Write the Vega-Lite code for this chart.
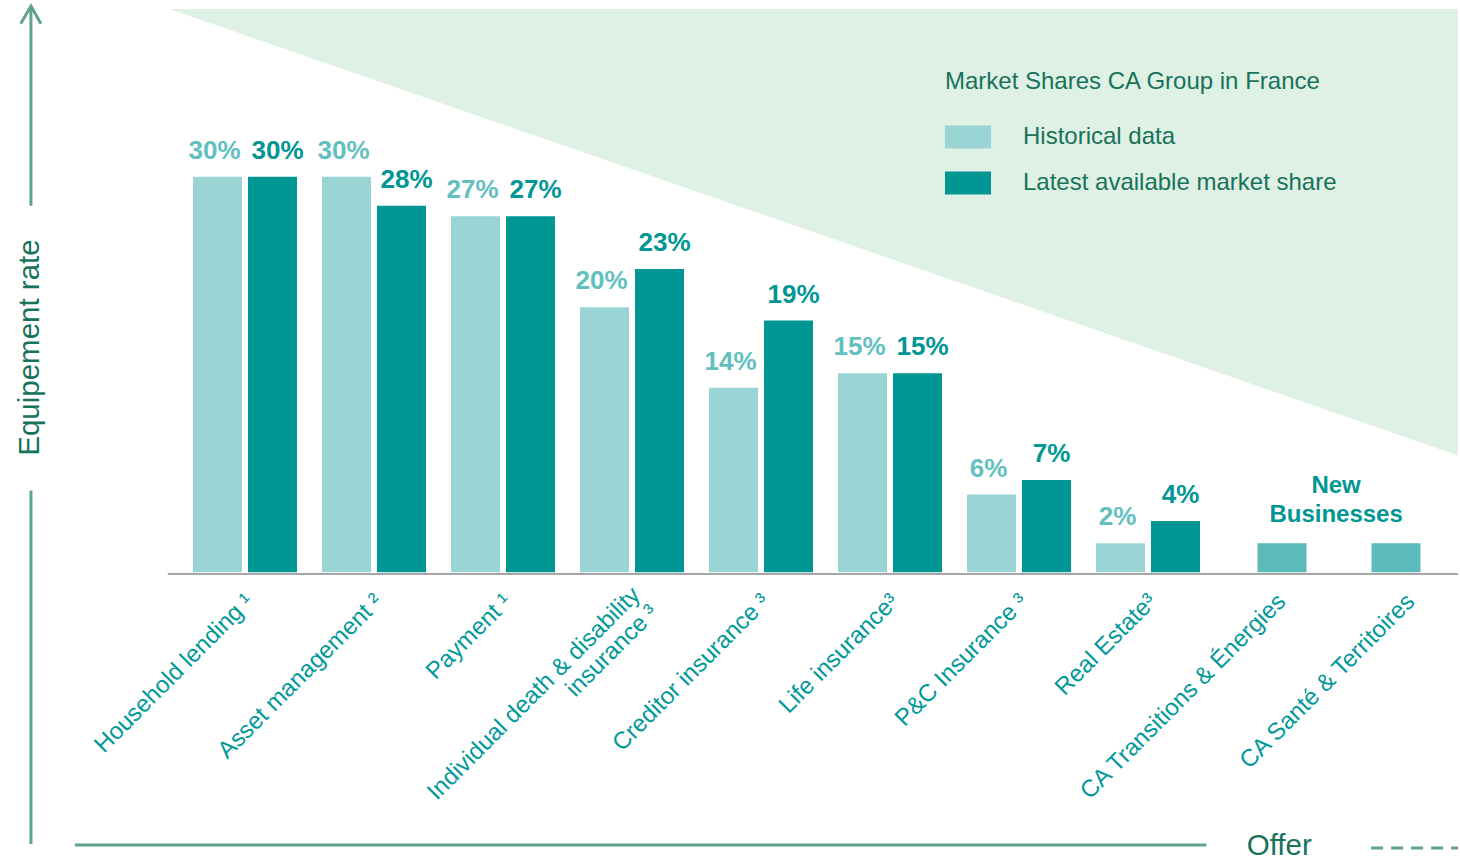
{
  "$schema": "https://vega.github.io/schema/vega-lite/v6.json",
  "width": 1460,
  "height": 861,
  "autosize": {"type": "fit", "contains": "padding"},
  "padding": 0,
  "background": "white",
  "config": {"view": {"stroke": null}, "font": "Liberation Sans"},
  "datasets": {
    "bars": [
      {"category": "Household lending", "series": "Historical data", "value": 0.300},
      {"category": "Household lending", "series": "Latest available market share", "value": 0.300},
      {"category": "Asset management", "series": "Historical data", "value": 0.300},
      {"category": "Asset management", "series": "Latest available market share", "value": 0.278},
      {"category": "Payment", "series": "Historical data", "value": 0.270},
      {"category": "Payment", "series": "Latest available market share", "value": 0.270},
      {"category": "Individual death & disability insurance", "series": "Historical data", "value": 0.201},
      {"category": "Individual death & disability insurance", "series": "Latest available market share", "value": 0.230},
      {"category": "Creditor insurance", "series": "Historical data", "value": 0.140},
      {"category": "Creditor insurance", "series": "Latest available market share", "value": 0.191},
      {"category": "Life insurance", "series": "Historical data", "value": 0.151},
      {"category": "Life insurance", "series": "Latest available market share", "value": 0.151},
      {"category": "P&C Insurance", "series": "Historical data", "value": 0.059},
      {"category": "P&C Insurance", "series": "Latest available market share", "value": 0.070},
      {"category": "Real Estate", "series": "Historical data", "value": 0.022},
      {"category": "Real Estate", "series": "Latest available market share", "value": 0.039}
    ],
    "newbiz": [
      {"category": "CA Transitions & Énergies", "value": 0.022},
      {"category": "CA Santé & Territoires", "value": 0.022}
    ],
    "cats": [
      {"category": "Household lending", "label": "Household lending ¹"},
      {"category": "Asset management", "label": "Asset management ²"},
      {"category": "Payment", "label": "Payment ¹"},
      {"category": "Individual death & disability insurance", "label": ["Individual death & disability", "insurance ³"]},
      {"category": "Creditor insurance", "label": "Creditor insurance ³"},
      {"category": "Life insurance", "label": "Life insurance³"},
      {"category": "P&C Insurance", "label": "P&C Insurance ³"},
      {"category": "Real Estate", "label": "Real Estate³"},
      {"category": "CA Transitions & Énergies", "label": "CA Transitions & Énergies"},
      {"category": "CA Santé & Territoires", "label": "CA Santé & Territoires"}
    ],
    "triangle": [
      {"px": 11.644, "lo": 0.42727, "hi": 0.42727},
      {"px": 100, "lo": 0.08864, "hi": 0.42727}
    ],
    "solidlines": [
      {"x1": 2.123, "y1": -0.2061, "x2": 2.123, "y2": 0.0621},
      {"x1": 2.123, "y1": 0.2780, "x2": 2.123, "y2": 0.4295},
      {"x1": 5.137, "y1": -0.2068, "x2": 82.74, "y2": -0.2068}
    ],
    "dashline": [
      {"x1": 94.04, "y1": -0.2091, "x2": 100, "y2": -0.2091}
    ],
    "baseline": [
      {"x1": 11.507, "x2": 100, "y": -0.0012}
    ],
    "arrowhead": [
      {"px": 1.418, "py": 0.4161, "o": 1},
      {"px": 2.123, "py": 0.4295, "o": 2},
      {"px": 2.808, "py": 0.4161, "o": 3}
    ],
    "axistitles": [
      {"px": 2.05, "py": 0.1705, "text": "Equipement rate", "angle": 270},
      {"px": 87.74, "py": -0.2076, "text": "Offer", "angle": 0}
    ],
    "nbtitle": [
      {"px": 91.64, "py": 0.0655, "text": ["New", "Businesses"]}
    ]
  },
  "layer": [
    {
      "layer": [
        {
          "data": {"name": "triangle"},
          "mark": {"type": "area", "color": "#DFF0E5", "opacity": 1},
          "encoding": {
            "x": {"field": "px", "type": "quantitative", "scale": {"domain": [0, 100], "nice": false, "zero": false}, "axis": null},
            "y": {"field": "lo", "type": "quantitative", "scale": {"domain": [-0.21894, 0.43333], "nice": false, "zero": false}, "axis": null},
            "y2": {"field": "hi"}
          }
        },
        {
          "data": {"name": "baseline"},
          "mark": {"type": "rule", "color": "#A6A6A6", "strokeWidth": 2},
          "encoding": {
            "x": {"field": "x1", "type": "quantitative", "scale": {"domain": [0, 100], "nice": false, "zero": false}, "axis": null},
            "x2": {"field": "x2"},
            "y": {"field": "y", "type": "quantitative", "scale": {"domain": [-0.21894, 0.43333], "nice": false, "zero": false}, "axis": null}
          }
        },
        {
          "data": {"name": "solidlines"},
          "mark": {"type": "rule", "color": "#5FA38D", "strokeWidth": 3},
          "encoding": {
            "x": {"field": "x1", "type": "quantitative", "scale": {"domain": [0, 100], "nice": false, "zero": false}, "axis": null},
            "x2": {"field": "x2"},
            "y": {"field": "y1", "type": "quantitative", "scale": {"domain": [-0.21894, 0.43333], "nice": false, "zero": false}, "axis": null},
            "y2": {"field": "y2"}
          }
        },
        {
          "data": {"name": "dashline"},
          "mark": {"type": "rule", "color": "#5FA38D", "strokeWidth": 3, "strokeDash": [12, 8]},
          "encoding": {
            "x": {"field": "x1", "type": "quantitative", "scale": {"domain": [0, 100], "nice": false, "zero": false}, "axis": null},
            "x2": {"field": "x2"},
            "y": {"field": "y1", "type": "quantitative", "scale": {"domain": [-0.21894, 0.43333], "nice": false, "zero": false}, "axis": null},
            "y2": {"field": "y2"}
          }
        },
        {
          "data": {"name": "arrowhead"},
          "mark": {"type": "line", "color": "#5FA38D", "strokeWidth": 3},
          "encoding": {
            "x": {"field": "px", "type": "quantitative", "scale": {"domain": [0, 100], "nice": false, "zero": false}, "axis": null},
            "y": {"field": "py", "type": "quantitative", "scale": {"domain": [-0.21894, 0.43333], "nice": false, "zero": false}, "axis": null},
            "order": {"field": "o"}
          }
        },
        {
          "data": {"name": "axistitles"},
          "mark": {"type": "text", "color": "#17735A", "fontSize": 29.5, "align": "center", "baseline": "middle"},
          "encoding": {
            "x": {"field": "px", "type": "quantitative", "scale": {"domain": [0, 100], "nice": false, "zero": false}, "axis": null},
            "y": {"field": "py", "type": "quantitative", "scale": {"domain": [-0.21894, 0.43333], "nice": false, "zero": false}, "axis": null},
            "text": {"field": "text"},
            "angle": {"field": "angle", "type": "quantitative", "scale": null}
          }
        },
        {
          "data": {"name": "nbtitle"},
          "mark": {"type": "text", "color": "#009694", "fontSize": 24, "fontWeight": "bold", "align": "center", "baseline": "middle", "lineHeight": 29},
          "encoding": {
            "x": {"field": "px", "type": "quantitative", "scale": {"domain": [0, 100], "nice": false, "zero": false}, "axis": null},
            "y": {"field": "py", "type": "quantitative", "scale": {"domain": [-0.21894, 0.43333], "nice": false, "zero": false}, "axis": null},
            "text": {"field": "text"}
          }
        }
      ]
    },
    {
      "layer": [
        {
          "data": {"name": "bars"},
          "mark": {"type": "bar"},
          "encoding": {
            "x": {"field": "category", "type": "nominal", "sort": null, "scale": {"domain": ["Household lending", "Asset management", "Payment", "Individual death & disability insurance", "Creditor insurance", "Life insurance", "P&C Insurance", "Real Estate", "CA Transitions & Énergies", "CA Santé & Territoires"], "range": [193, 1458], "paddingInner": 0.1938, "paddingOuter": 0}, "axis": null},
            "xOffset": {"field": "series", "type": "nominal", "scale": {"domain": ["Historical data", "Latest available market share"], "paddingInner": 0.109, "paddingOuter": 0}},
            "y": {"field": "value", "type": "quantitative", "scale": {"domain": [-0.21894, 0.43333], "nice": false, "zero": false}, "axis": null},
            "y2": {"datum": 0},
            "color": {
              "field": "series", "type": "nominal",
              "scale": {"domain": ["Historical data", "Latest available market share"], "range": ["#9BD4D5", "#009694"]},
              "legend": {
                "orient": "none", "legendX": 945, "legendY": 69,
                "title": "Market Shares CA Group in France",
                "titleFont": "Liberation Sans", "titleFontSize": 24, "titleFontWeight": "normal", "titleColor": "#17735A", "titleLimit": 0, "titlePadding": 20,
                "labelFont": "Liberation Sans", "labelFontSize": 24, "labelColor": "#17735A", "labelLimit": 0, "labelOffset": 32,
                "symbolType": "M-1,-0.5H1V0.5H-1Z", "symbolSize": 2116, "symbolStrokeWidth": 0, "symbolOpacity": 1,
                "rowPadding": 11, "padding": 0
              }
            }
          }
        },
        {
          "data": {"name": "bars"},
          "mark": {"type": "text", "fontSize": 26, "fontWeight": "bold", "align": "center", "baseline": "alphabetic", "dy": -18, "dx": {"expr": "datum.series === 'Historical data' ? -3 : 5"}},
          "encoding": {
            "x": {"field": "category", "type": "nominal", "sort": null, "axis": null},
            "xOffset": {"field": "series", "type": "nominal"},
            "y": {"field": "value", "type": "quantitative", "scale": {"domain": [-0.21894, 0.43333], "nice": false, "zero": false}, "axis": null},
            "text": {"field": "value", "type": "quantitative", "format": ".0%"},
            "color": {"condition": {"test": "datum.series === 'Historical data'", "value": "#62C0C0"}, "value": "#009694"}
          }
        },
        {
          "data": {"name": "newbiz"},
          "mark": {"type": "bar", "width": 49, "color": "#5CBABA", "xOffset": {"expr": "datum.category === 'CA Santé & Territoires' ? -10 : 5"}},
          "encoding": {
            "x": {"field": "category", "type": "nominal", "sort": null, "axis": null},
            "y": {"field": "value", "type": "quantitative", "scale": {"domain": [-0.21894, 0.43333], "nice": false, "zero": false}, "axis": null},
            "y2": {"datum": 0}
          }
        },
        {
          "data": {"name": "cats"},
          "transform": [{"filter": "!isArray(datum.label)"}],
          "mark": {"type": "text", "fontSize": 24, "color": "#00999A", "align": "right", "baseline": "middle", "angle": 315, "dx": 5, "dy": 2},
          "encoding": {
            "x": {"field": "category", "type": "nominal", "sort": null, "axis": null},
            "y": {"datum": -0.0212, "type": "quantitative", "scale": {"domain": [-0.21894, 0.43333], "nice": false, "zero": false}, "axis": null},
            "text": {"field": "label"}
          }
        },
        {
          "data": {"name": "cats"},
          "transform": [{"filter": "isArray(datum.label)"}],
          "mark": {"type": "text", "fontSize": 24, "color": "#00999A", "align": "right", "baseline": "middle", "angle": 315, "lineHeight": 25, "dx": 9.5, "dy": -3},
          "encoding": {
            "x": {"field": "category", "type": "nominal", "sort": null, "axis": null},
            "y": {"datum": -0.0212, "type": "quantitative", "scale": {"domain": [-0.21894, 0.43333], "nice": false, "zero": false}, "axis": null},
            "text": {"field": "label"}
          }
        }
      ]
    }
  ],
  "resolve": {"scale": {"x": "independent"}}
}
